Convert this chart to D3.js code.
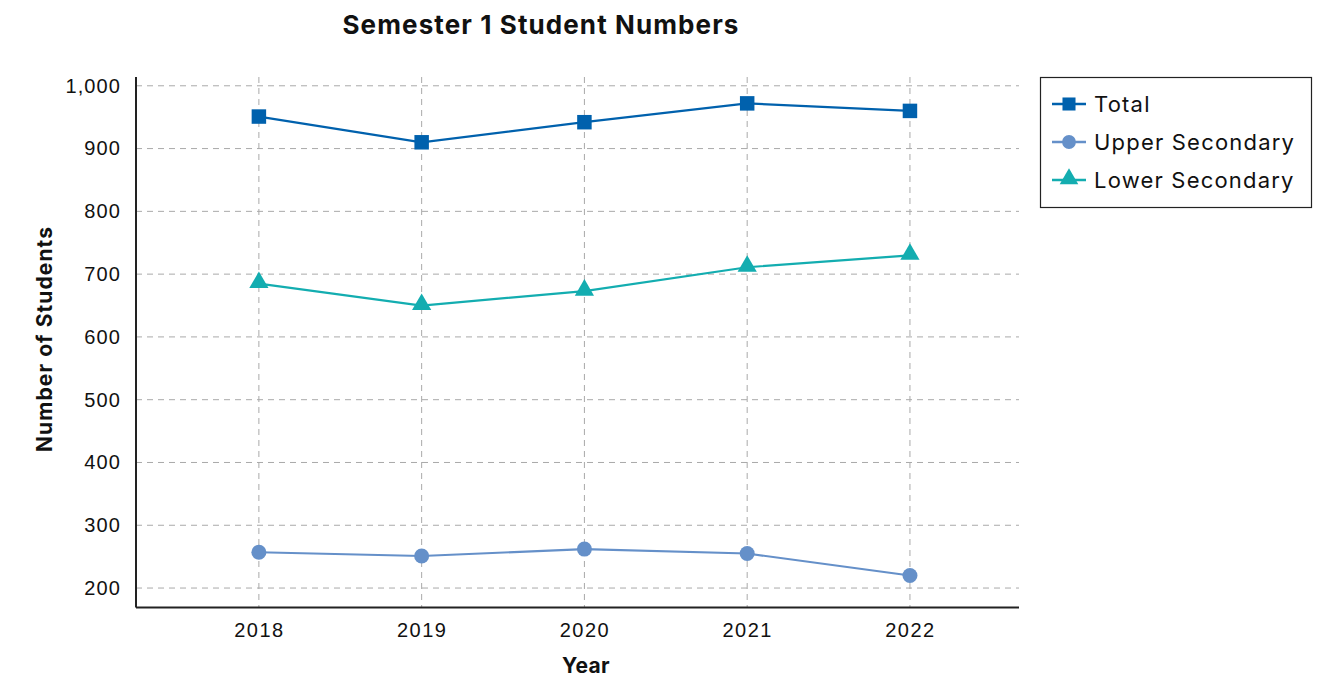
<!DOCTYPE html>
<html><head><meta charset="utf-8">
<script src="https://cdn.jsdelivr.net/npm/d3@7"></script>
<style>body{margin:0;background:#fff;}svg{display:block;font-family:Inter,"Noto Sans",sans-serif;}</style>
</head><body><svg id="c" width="1321" height="680"></svg>
<script>
const years = [2018, 2019, 2020, 2021, 2022];
const total = [951, 910, 942, 972, 960];
const upper = [257, 251, 262, 255, 220];
const lower = [685, 650, 673, 711, 730];
const yTicks = [200, 300, 400, 500, 600, 700, 800, 900, 1000];
const seriesNames = ["Total", "Upper Secondary", "Lower Secondary"];
const seriesColors = ["#0061ad", "#6590c9", "#13adb0"];
const seriesSymbols = [d3.symbolSquare, d3.symbolCircle, d3.symbolTriangle];
const seriesValues = [total, upper, lower];

const svg = d3.select("#c");
const L = 136, R = 1019, T = 77, B = 607.5;
const x = d3.scaleLinear().domain([2017.245, 2022.67]).range([L, R]);
const y = d3.scaleLinear().domain([169, 1014]).range([B, T]);

// grid
const g = svg.append("g");
g.selectAll(".hg").data(yTicks).join("line")
  .attr("x1", L).attr("x2", R).attr("y1", d => y(d)).attr("y2", d => y(d))
  .attr("stroke", "#a9a9a9").attr("stroke-width", 1).attr("stroke-dasharray", "6,5");
g.selectAll(".vg").data(years).join("line")
  .attr("x1", d => x(d)).attr("x2", d => x(d)).attr("y1", T).attr("y2", B)
  .attr("stroke", "#a9a9a9").attr("stroke-width", 1).attr("stroke-dasharray", "6,5");

// axes
const yAxis = d3.axisLeft(y).tickValues(yTicks).tickSize(0).tickPadding(15).tickFormat(d3.format(","));
const ya = svg.append("g").attr("transform", `translate(${L},0)`).call(yAxis);
ya.select(".domain").attr("stroke", "#222").attr("stroke-width", 2).attr("d", `M0,${T}V${B}`);
ya.selectAll("text").attr("font-size", 20).attr("letter-spacing", "1.1px").attr("fill", "#111");

const xAxis = d3.axisBottom(x).tickValues(years).tickSize(0).tickPadding(15).tickFormat(d3.format("d"));
const xa = svg.append("g").attr("transform", `translate(0,${B})`).call(xAxis);
xa.select(".domain").attr("stroke", "#222").attr("stroke-width", 2).attr("d", `M${L},0H${R}`);
xa.selectAll("text").attr("font-size", 20).attr("letter-spacing", "1.5px").attr("fill", "#111");

// lines + markers
const line = d3.line().x((d, i) => x(years[i])).y(d => y(d));
seriesValues.forEach((vals, k) => {
  svg.append("path").datum(vals).attr("d", line).attr("fill", "none")
    .attr("stroke", seriesColors[k]).attr("stroke-width", 2.2);
  const sz = k === 0 ? 210 : (k === 1 ? 177 : 160);
  svg.selectAll(null).data(vals).join("path")
    .attr("transform", (d, i) => `translate(${x(years[i])},${y(d) + (k === 2 ? -1 : 0)})`)
    .attr("d", d3.symbol().type(seriesSymbols[k]).size(sz))
    .attr("fill", seriesColors[k]);
});

// titles
svg.append("text").attr("x", 541).attr("y", 34).attr("text-anchor", "middle")
  .attr("font-size", 26).attr("font-weight", 700).attr("letter-spacing", "1.1px").attr("fill", "#111").text("Semester 1 Student Numbers");
svg.append("text").attr("x", 586).attr("y", 673).attr("text-anchor", "middle")
  .attr("font-size", 21).attr("font-weight", 700).attr("letter-spacing", "0.4px").attr("fill", "#111").text("Year");
svg.append("text").attr("transform", "translate(52,339) rotate(-90)").attr("text-anchor", "middle")
  .attr("font-size", 21).attr("font-weight", 700).attr("letter-spacing", "1.1px").attr("fill", "#111").text("Number of Students");

// legend
const lg = svg.append("g");
lg.append("rect").attr("x", 1040.5).attr("y", 77.5).attr("width", 271).attr("height", 130)
  .attr("fill", "#fff").attr("stroke", "#222").attr("stroke-width", 1.2);
seriesNames.forEach((name, k) => {
  const cy = 104 + k * 38;
  lg.append("line").attr("x1", 1052).attr("x2", 1086).attr("y1", cy).attr("y2", cy)
    .attr("stroke", seriesColors[k]).attr("stroke-width", 2.5);
  lg.append("path").attr("transform", `translate(1069,${cy + (k === 2 ? -1 : 0)})`)
    .attr("d", d3.symbol().type(seriesSymbols[k]).size(k === 0 ? 170 : 150)).attr("fill", seriesColors[k]);
  lg.append("text").attr("x", 1094).attr("y", cy + 8).attr("font-size", 22).attr("letter-spacing", "1.2px").attr("fill", "#111").text(name);
});
</script></body></html>
